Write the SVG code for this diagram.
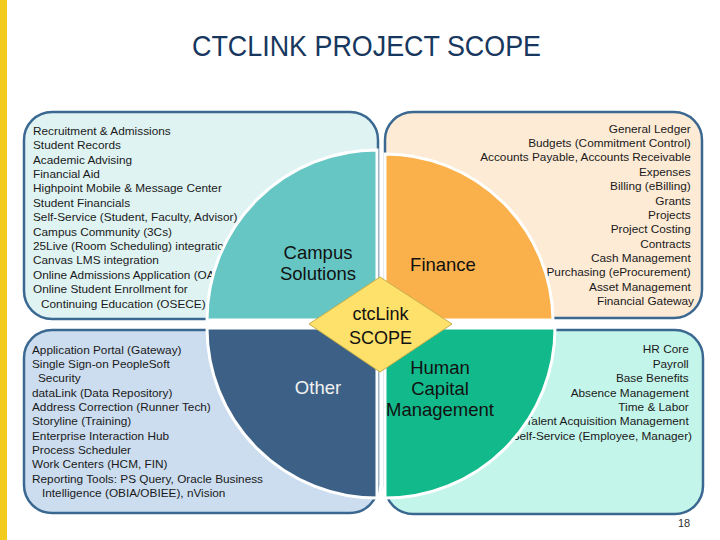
<svg xmlns="http://www.w3.org/2000/svg" width="720" height="540" viewBox="0 0 720 540">
<style>
.box{stroke:#3A6891;stroke-width:2.5}
.lst{font-family:"Liberation Sans",Arial,sans-serif;font-size:11.8px;fill:#1a1a1a}
.r{text-anchor:end}
.lab{font-family:"Liberation Sans",Arial,sans-serif;font-size:18.5px;text-anchor:middle;fill:#111}
.q{stroke:#fff;stroke-width:3}
</style>
<rect x="0" y="0" width="720" height="540" fill="#fff"/>
<rect x="0" y="0" width="7" height="540" fill="#F2CB1D"/>
<text x="366.5" y="56" font-family="'Liberation Sans Narrow','Liberation Sans',Arial,sans-serif" font-size="29" fill="#17375E" text-anchor="middle" textLength="349" lengthAdjust="spacingAndGlyphs">CTCLINK PROJECT SCOPE</text>

<g id="box-campus">
<rect class="box" x="24" y="112" width="354" height="207" rx="28" fill="#DFF3F3"/>
<text class="lst">
<tspan x="33" y="134.5">Recruitment &amp; Admissions</tspan>
<tspan x="33" y="149">Student Records</tspan>
<tspan x="33" y="163.5">Academic Advising</tspan>
<tspan x="33" y="178">Financial Aid</tspan>
<tspan x="33" y="192.4">Highpoint Mobile &amp; Message Center</tspan>
<tspan x="33" y="206.8">Student Financials</tspan>
<tspan x="33" y="221.2">Self-Service (Student, Faculty, Advisor)</tspan>
<tspan x="33" y="235.6">Campus Community (3Cs)</tspan>
<tspan x="33" y="250">25Live (Room Scheduling) integratio</tspan>
<tspan x="33" y="264.4">Canvas LMS integration</tspan>
<tspan x="33" y="278.8">Online Admissions Application (OA</tspan>
<tspan x="33" y="293.2">Online Student Enrollment for</tspan>
<tspan x="41" y="307.6">Continuing Education (OSECE)</tspan>
</text>
</g>

<g id="box-finance">
<rect class="box" x="385" y="112" width="317" height="206" rx="28" fill="#FDEBD6"/>
<text class="lst r">
<tspan x="694" y="132.6">General Ledger</tspan>
<tspan x="694" y="147">Budgets (Commitment Control)</tspan>
<tspan x="694" y="161.4">Accounts Payable, Accounts Receivable</tspan>
<tspan x="694" y="175.7">Expenses</tspan>
<tspan x="694" y="190.1">Billing (eBilling)</tspan>
<tspan x="694" y="204.5">Grants</tspan>
<tspan x="694" y="218.8">Projects</tspan>
<tspan x="694" y="233.2">Project Costing</tspan>
<tspan x="694" y="247.6">Contracts</tspan>
<tspan x="694" y="262">Cash Management</tspan>
<tspan x="694" y="276.3">Purchasing (eProcurement)</tspan>
<tspan x="694" y="290.7">Asset Management</tspan>
<tspan x="694" y="305">Financial Gateway</tspan>
</text>
</g>

<g id="box-other">
<rect class="box" x="24" y="330" width="354" height="183" rx="28" fill="#CCDDEF"/>
<text class="lst">
<tspan x="32" y="353.6">Application Portal (Gateway)</tspan>
<tspan x="32" y="368">Single Sign-on PeopleSoft</tspan>
<tspan x="38" y="382.3">Security</tspan>
<tspan x="32" y="396.6">dataLink (Data Repository)</tspan>
<tspan x="32" y="411">Address Correction (Runner Tech)</tspan>
<tspan x="32" y="425.3">Storyline (Training)</tspan>
<tspan x="32" y="439.6">Enterprise Interaction Hub</tspan>
<tspan x="32" y="454">Process Scheduler</tspan>
<tspan x="32" y="468.3">Work Centers (HCM, FIN)</tspan>
<tspan x="32" y="482.7">Reporting Tools: PS Query, Oracle Business</tspan>
<tspan x="42" y="497">Intelligence (OBIA/OBIEE), nVision</tspan>
</text>
</g>

<g id="box-hcm">
<rect class="box" x="385" y="330" width="318" height="184" rx="28" fill="#C4F5EA"/>
<text class="lst r">
<tspan x="692" y="353.3">HR Core</tspan>
<tspan x="692" y="367.7">Payroll</tspan>
<tspan x="692" y="382.1">Base Benefits</tspan>
<tspan x="692" y="396.5">Absence Management</tspan>
<tspan x="692" y="410.9">Time &amp; Labor</tspan>
<tspan x="692" y="425.3">Talent Acquisition Management</tspan>
<tspan x="692" y="439.7">Self-Service (Employee, Manager)</tspan>
</text>
</g>

<g id="connectors"></g>

<g id="q-campus">
<path class="q" d="M377,320 L207,320 A170,170 0 0 1 377,150 Z" fill="#66C6C3"/>
<text class="lab"><tspan x="318" y="259">Campus</tspan><tspan x="318" y="280">Solutions</tspan></text>
</g>
<g id="q-finance">
<path class="q" d="M385,320 L385,154 A168,168 0 0 1 553,320 Z" fill="#FBB14B"/>
<text class="lab" x="443" y="270.5">Finance</text>
</g>
<g id="q-other">
<path class="q" d="M377,328 L377,498 A170,170 0 0 1 207,328 Z" fill="#3D6186"/>
<text class="lab" x="318" y="393.5" style="fill:#F2F2F2">Other</text>
</g>
<g id="q-hcm">
<path class="q" d="M385,328 L555,328 A170,170 0 0 1 385,498 Z" fill="#12B98B"/>
<text class="lab"><tspan x="440" y="373.5">Human</tspan><tspan x="440" y="394.5">Capital</tspan><tspan x="440" y="415.5">Management</tspan></text>
</g>

<g id="center">
<polygon points="309,324 380,277 452,324 380,372" fill="#FDE16A" stroke="#C8AE4A" stroke-width="1"/>
<text class="lab" style="font-size:18px"><tspan x="380.5" y="320">ctcLink</tspan><tspan x="380.5" y="343.5">SCOPE</tspan></text>
</g>

<text x="684" y="527" font-family="'Liberation Sans',Arial,sans-serif" font-size="11" fill="#333" text-anchor="middle">18</text>
</svg>
